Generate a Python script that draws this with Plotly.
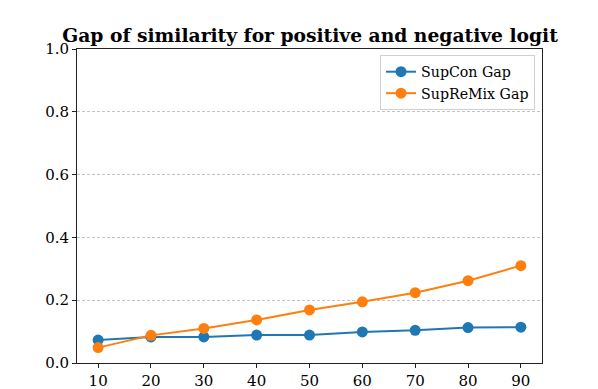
import plotly.graph_objects as go

epochs = [10, 20, 30, 40, 50, 60, 70, 80, 90]
supcon_gap = [0.073, 0.083, 0.083, 0.089, 0.089, 0.099, 0.104, 0.113, 0.114]
supremix_gap = [0.049, 0.088, 0.110, 0.137, 0.169, 0.195, 0.224, 0.262, 0.310]
y_ticks = [0.0, 0.2, 0.4, 0.6, 0.8, 1.0]

serif = "DejaVu Serif"

fig = go.Figure()
fig.add_trace(go.Scatter(x=epochs, y=supcon_gap, mode="lines+markers", name="SupCon Gap",
                         line={"color": "#1f77b4", "width": 2},
                         marker={"color": "#1f77b4", "size": 11}))
fig.add_trace(go.Scatter(x=epochs, y=supremix_gap, mode="lines+markers", name="SupReMix Gap",
                         line={"color": "#ff7f0e", "width": 2},
                         marker={"color": "#ff7f0e", "size": 11}))

# page body has an 8px margin, so the figure is shrunk by 8px and margins shifted
fig.update_layout(
    width=590, height=381,
    margin={"l": 69, "r": 56, "t": 41, "b": 26, "autoexpand": False},
    paper_bgcolor="white", plot_bgcolor="white",
    font={"family": serif, "size": 15, "color": "black"},
    title={"text": "<b>Gap of similarity for positive and negative logit</b>",
           "x": 0.512, "xanchor": "center", "y": 0.911, "yanchor": "bottom",
           "font": {"family": serif, "size": 18.7, "color": "black"}},
    legend={"x": 0.985, "y": 0.981, "xanchor": "right", "yanchor": "top",
            "bgcolor": "white", "bordercolor": "#d0d0d0", "borderwidth": 1,
            "font": {"family": serif, "size": 14.2}},
    showlegend=True,
)
fig.update_xaxes(range=[6, 94], tickvals=epochs, showgrid=False, zeroline=False,
                 automargin=False,
                 showline=True, linecolor="#222222", linewidth=1, mirror=True,
                 ticks="outside", ticklen=4, tickcolor="#222222")
fig.update_yaxes(range=[0, 1], tickvals=y_ticks, ticktext=[f"{v:.1f}" for v in y_ticks],
                 showgrid=True, gridcolor="#c4c4c4", griddash="3px,2px", gridwidth=0.8,
                 automargin=False,
                 zeroline=False, showline=True, linecolor="#222222", linewidth=1, mirror=True,
                 ticks="outside", ticklen=4, tickcolor="#222222")

fig.write_html("out.html")
